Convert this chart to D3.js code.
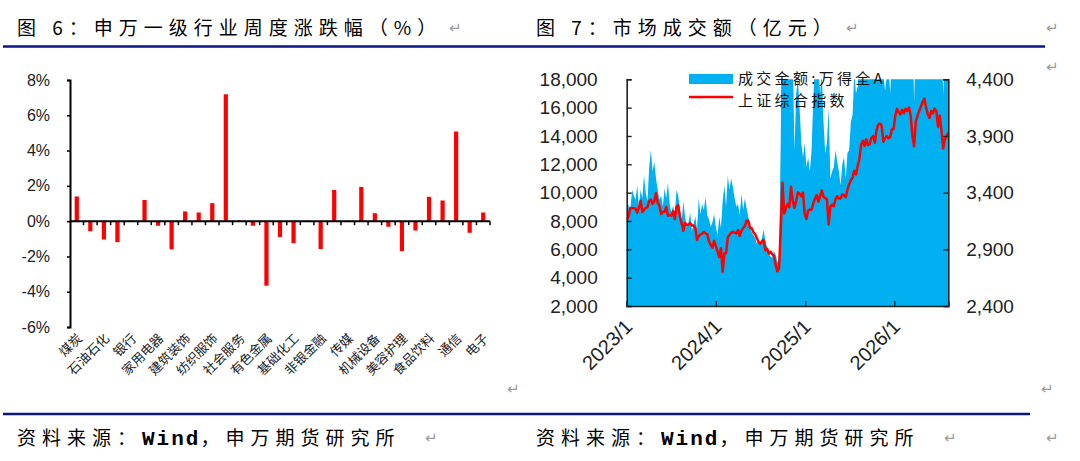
<!DOCTYPE html>
<html>
<head>
<meta charset="utf-8">
<script src="https://cdn.jsdelivr.net/npm/d3@7"></script>
<style>
  html, body { margin: 0; padding: 0; background: #fff; }
  svg { display: block; }
</style>
</head>
<body>
<svg id="chart" width="1080" height="461"></svg>
<script>
// ---- figure 6: SW level-1 industries, weekly change (%) ----
const industries = ['煤炭', '农林牧渔', '石油石化', '钢铁', '银行', '汽车', '家用电器', '轻工制造', '建筑装饰', '医药生物',
  '纺织服饰', '公用事业', '社会服务', '交通运输', '有色金属', '房地产', '基础化工', '商贸零售', '非银金融', '综合',
  '传媒', '建筑材料', '机械设备', '电力设备', '美容护理', '国防军工', '食品饮料', '计算机', '通信', '环保', '电子'];
const weeklyChange = [1.40, -0.57, -1.04, -1.19, 0.04, 1.20, -0.26, -1.60, 0.55, 0.49,
  1.02, 7.19, 0.04, -0.26, -3.66, -0.90, -1.25, 0.03, -1.58, 1.77,
  0.03, 1.94, 0.45, -0.32, -1.70, -0.53, 1.38, 1.17, 5.08, -0.66, 0.49];
const pctTicks = [-6, -4, -2, 0, 2, 4, 6, 8];

// ---- figure 7: market turnover (100m CNY, weekly) and SSE composite ----
const turnover2023 = [8400, 9200, 8800, 10200, 9800, 9500, 10500, 9000, 10200, 9600, 11200, 10000, 9400,
  11800, 13000, 11500, 12200, 11000, 10200, 9500, 9800, 9000, 10300, 9600, 10700, 9200,
  8600, 9100, 8400, 10200, 9800, 8800, 8000, 9400, 8300, 7600, 7900, 8600, 7300,
  7800, 8300, 7400, 9600, 8500, 9200, 8800, 9700, 8400, 8100, 7600, 7900, 8500];
const turnover2024 = [7600, 7000, 8300, 7500, 9400, 10500, 9000, 11200, 10200, 11000, 10400, 9600, 9000,
  9200, 8400, 9900, 8800, 9600, 8900, 8300, 7600, 7200, 7000, 6800, 6400, 6700,
  6300, 6800, 7400, 6500, 6200, 5700, 5500, 5400, 5900, 5600, 5100, 5300, 14000,
  30000, 22000, 20000, 21000, 19500, 25000, 20000, 13000, 17000, 18000, 16000, 13500, 12500];
const turnover2025 = [13500, 11800, 12500, 11500, 13000, 16500, 19500, 20500, 19000, 17000, 18500, 15000, 12800,
  13500, 16000, 11000, 11500, 11800, 13000, 12200, 11500, 10500, 12000, 12500, 11000, 12800,
  13000, 15000, 15500, 18500, 17000, 17500, 21000, 25000, 28000, 23000, 22500, 25000, 21000,
  22000, 24000, 19500, 18800, 23000, 22000, 19500, 18400, 17200, 18300, 19000, 17000, 19500];
const turnover2026 = [21000, 28000, 30000, 26000, 25000, 22000, 20000, 19000, 24000, 23000, 21000, 22500, 16400,
  21000, 24000, 20000, 22000, 25000, 27000, 23000, 21000, 20000, 22000, 19500, 21000, 23000,
  24000, 20000, 22000, 16800, 21000, 20000, 22000];

const sse2023 = [3157, 3195, 3265, 3264, 3263, 3260, 3224, 3267, 3328, 3230, 3250, 3266, 3273,
  3327, 3338, 3301, 3323, 3395, 3310, 3283, 3212, 3230, 3231, 3273, 3197, 3202,
  3197, 3237, 3168, 3276, 3288, 3189, 3131, 3064, 3133, 3116, 3117, 3132, 3110,
  3110, 3088, 2983, 3017, 3030, 3038, 3054, 3041, 3032, 2970, 2942, 2914, 2975];
const sse2024 = [2929, 2882, 2832, 2910, 2702, 2866, 2866, 3004, 3027, 3046, 3054, 3048, 3041,
  3069, 3019, 3065, 3088, 3105, 3154, 3154, 3089, 3087, 3051, 3033, 2998, 2967,
  2949, 2971, 2982, 2891, 2905, 2862, 2879, 2855, 2842, 2765, 2704, 2736, 3088,
  3489, 3217, 3261, 3300, 3272, 3452, 3331, 3267, 3326, 3404, 3392, 3368, 3400];
const sse2025 = [3211, 3168, 3241, 3252, 3250, 3303, 3346, 3379, 3321, 3372, 3419, 3364, 3352,
  3342, 3120, 3277, 3295, 3280, 3342, 3367, 3348, 3347, 3385, 3377, 3359, 3424,
  3473, 3510, 3534, 3594, 3560, 3635, 3697, 3825, 3858, 3812, 3870, 3820, 3828,
  3882, 3900, 3840, 3950, 4000, 4010, 3990, 3850, 3880, 3900, 3880, 3890, 3960];
const sse2026 = [3960, 4080, 4140, 4110, 4090, 4130, 4100, 4140, 4120, 4150, 4080, 3900, 3810,
  4030, 4080, 4120, 4160, 4200, 4230, 4150, 4090, 4060, 4120, 4100, 4140, 4120,
  3980, 4080, 3950, 3790, 3870, 3900, 3930];
const leftTicks = [2000, 4000, 6000, 8000, 10000, 12000, 14000, 16000, 18000];
const rightTicks = [2400, 2900, 3400, 3900, 4400];
const legendLabels = ['成交金额:万得全A', '上证综合指数'];

const CN = '"Noto Sans CJK SC", sans-serif';
const MONO = '"Liberation Mono", "DejaVu Sans Mono", monospace';
const svg = d3.select('#chart');
svg.append('rect').attr('width', 1080).attr('height', 461).attr('fill', '#fff');

// ---------- page furniture ----------
function heading(x, y, parts) {
  const t = svg.append('text').attr('x', x).attr('y', y).attr('font-size', 19)
    .attr('letter-spacing', 6).attr('fill', '#000').attr('font-family', CN);
  parts.forEach(([s, mono]) => {
    const sp = t.append('tspan').text(s);
    if (mono) sp.attr('font-family', MONO).attr('font-size', 21).attr('font-weight', 'bold').attr('letter-spacing', 2);
  });
}
heading(17, 35, [['图 6：申万一级行业周度涨跌幅（%）']]);
heading(536, 35, [['图 7：市场成交额（亿元）']]);
heading(17, 445, [['资料来源：'], ['Wind', true], ['，申万期货研究所']]);
heading(536, 445, [['资料来源：'], ['Wind', true], ['，申万期货研究所']]);

svg.append('line').attr('x1', 3).attr('x2', 1045).attr('y1', 46.5).attr('y2', 46.5)
  .attr('stroke', '#0b1585').attr('stroke-width', 2.5);
svg.append('line').attr('x1', 3).attr('x2', 1030).attr('y1', 414).attr('y2', 414)
  .attr('stroke', '#0b1585').attr('stroke-width', 2.5);

const returnMarks = [[449, 33], [846, 33], [1046, 33], [1046, 72], [507, 394], [1041, 394], [425, 443], [944, 443], [1046, 443]];
svg.selectAll('text.ret').data(returnMarks).join('text').attr('class', 'ret')
  .attr('x', d => d[0]).attr('y', d => d[1]).attr('font-family', 'DejaVu Sans').attr('font-size', 15)
  .attr('fill', '#9a9a9a').text('\u21B5');

// ---------- figure 6 ----------
const x6 = d3.scaleBand().domain(industries).range([70, 490]).paddingInner(0.69).paddingOuter(0.345);
const y6 = d3.scaleLinear().domain([-6, 8]).range([327, 80]);

const g6 = svg.append('g');
g6.selectAll('rect.bar').data(industries).join('rect').attr('class', 'bar')
  .attr('x', d => x6(d))
  .attr('width', x6.bandwidth())
  .attr('y', (d, i) => y6(Math.max(0, weeklyChange[i])))
  .attr('height', (d, i) => Math.abs(y6(weeklyChange[i]) - y6(0)))
  .attr('fill', '#ff0000');

const yAxis6 = g6.append('g').attr('transform', 'translate(70,0)')
  .call(d3.axisLeft(y6).tickValues(pctTicks).tickFormat(d => d + '%').tickSize(3).tickPadding(17));
yAxis6.select('.domain').attr('stroke', '#000').attr('stroke-width', 2);
yAxis6.selectAll('.tick line').attr('stroke', '#000').attr('stroke-width', 1.5);
yAxis6.selectAll('.tick text').attr('font-family', '"Liberation Sans", Arial, sans-serif').attr('font-size', 16).attr('fill', '#222');

// zero line with category boundary ticks
const bounds = industries.map(d => x6(d) - x6.step() * x6.paddingInner() / 2).slice(1).concat([490]);
const xAxis6 = g6.append('g');
xAxis6.append('line').attr('x1', 70).attr('x2', 490).attr('y1', y6(0)).attr('y2', y6(0))
  .attr('stroke', '#000').attr('stroke-width', 2);
xAxis6.selectAll('line.tk').data(bounds).join('line').attr('class', 'tk')
  .attr('x1', d => d).attr('x2', d => d).attr('y1', y6(0)).attr('y2', y6(0) + 4)
  .attr('stroke', '#000').attr('stroke-width', 1.5);
g6.selectAll('text.cat').data(industries.filter((d, i) => i % 2 === 0)).join('text').attr('class', 'cat')
  .attr('transform', d => `translate(${x6(d) + x6.bandwidth() / 2 + 3},${336}) rotate(-45)`)
  .attr('text-anchor', 'end').attr('dy', '0.35em')
  .attr('font-family', CN).attr('font-size', 13).attr('fill', '#222')
  .text(d => d);

// ---------- figure 7 ----------
const turnover = [...turnover2023, ...turnover2024, ...turnover2025, ...turnover2026];
const sse = [...sse2023, ...sse2024, ...sse2025, ...sse2026];
const weeks = d3.timeMonday.range(new Date(2023, 0, 2), new Date(2026, 7, 11));
const series = weeks.map((d, i) => ({ date: d, amount: turnover[i], index: sse[i] }));

const left7 = 626.7, right7 = 948.3, top7 = 79.3, bottom7 = 306;
const x7 = d3.scaleTime().domain([new Date(2023, 0, 1), weeks[weeks.length - 1]]).range([left7, right7]);
const yL = d3.scaleLinear().domain([2000, 18000]).range([bottom7, top7]);
const yR = d3.scaleLinear().domain([2400, 4400]).range([bottom7, top7]);

const g7 = svg.append('g');
g7.append('clipPath').attr('id', 'plot7').append('rect')
  .attr('x', left7).attr('y', top7).attr('width', right7 - left7).attr('height', bottom7 - top7);
const plot = g7.append('g').attr('clip-path', 'url(#plot7)');
plot.append('path').datum(series)
  .attr('d', d3.area().x(d => x7(d.date)).y0(bottom7).y1(d => yL(d.amount)))
  .attr('fill', '#00b0f0');
plot.append('path').datum(series)
  .attr('d', d3.line().x(d => x7(d.date)).y(d => yR(d.index)))
  .attr('fill', 'none').attr('stroke', '#ff0000').attr('stroke-width', 2.5).attr('stroke-linejoin', 'round');

const numFont = '"Liberation Sans", Arial, sans-serif';
const yearTicks = d3.timeYear.range(new Date(2023, 0, 1), new Date(2026, 1, 1));
const axL = g7.append('g').attr('transform', `translate(${left7},0)`)
  .call(d3.axisLeft(yL).tickValues(leftTicks).tickFormat(d3.format(',')).tickSize(-5).tickPadding(29));
const axR = g7.append('g').attr('transform', `translate(${right7},0)`)
  .call(d3.axisRight(yR).tickValues(rightTicks).tickFormat(d3.format(',')).tickSize(-5).tickPadding(18));
const axB = g7.append('g').attr('transform', `translate(0,${bottom7})`)
  .call(d3.axisBottom(x7).tickValues(yearTicks).tickSize(-5).tickFormat(''));
[axL, axR, axB].forEach(a => {
  a.select('.domain').attr('stroke', '#222').attr('stroke-width', 1.6);
  a.selectAll('.tick line').attr('stroke', '#222').attr('stroke-width', 1.4);
  a.selectAll('.tick text').attr('font-family', numFont).attr('font-size', 19).attr('fill', '#222');
});
g7.selectAll('text.yr').data(yearTicks).join('text').attr('class', 'yr')
  .attr('transform', d => `translate(${x7(d) + 2},${323}) rotate(-45)`)
  .attr('text-anchor', 'end').attr('dy', '0.35em')
  .attr('font-family', numFont).attr('font-size', 20).attr('fill', '#222')
  .text(d3.timeFormat('%Y/%-m'));

// legend
const lg = g7.append('g');
lg.append('rect').attr('x', 689).attr('y', 74).attr('width', 44).attr('height', 10).attr('fill', '#00b0f0');
lg.append('line').attr('x1', 689).attr('x2', 733).attr('y1', 97).attr('y2', 97).attr('stroke', '#ff0000').attr('stroke-width', 2.5);
lg.selectAll('text').data(legendLabels).join('text')
  .attr('x', 738).attr('y', (d, i) => 79 + i * 22).attr('dy', '0.35em')
  .attr('font-family', CN).attr('font-size', 15).attr('letter-spacing', 3.3).attr('fill', '#111')
  .text(d => d);
</script>
</body>
</html>
